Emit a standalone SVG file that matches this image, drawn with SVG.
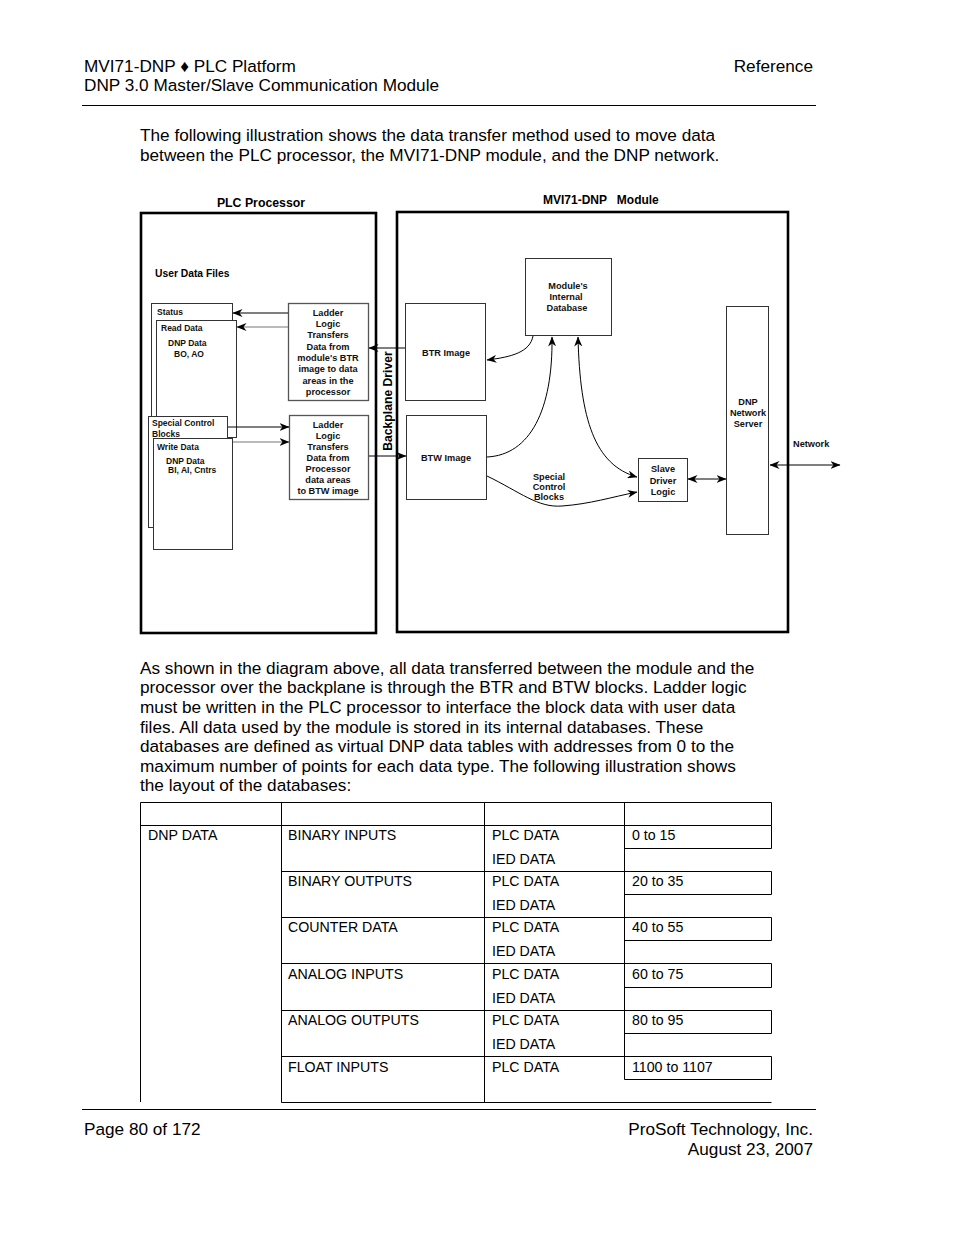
<svg xmlns="http://www.w3.org/2000/svg" width="954" height="1235" viewBox="0 0 954 1235">
<defs>
<marker id="ah" viewBox="0 0 10 8" refX="9.5" refY="4" markerWidth="10" markerHeight="8" markerUnits="userSpaceOnUse" orient="auto-start-reverse">
<path d="M0,0 L10,4 L0,8 L3,4 z" fill="#000"/>
</marker>
<style>
.pg{font-family:"Liberation Sans",Arial,sans-serif;font-size:17.2px;fill:#000}
.tb{font-family:"Liberation Sans",Arial,sans-serif;font-size:14.2px;fill:#000}
.d{font-family:"Liberation Sans",Arial,sans-serif;font-size:9.2px;font-weight:bold;fill:#111}
.ds{font-family:"Liberation Sans",Arial,sans-serif;font-size:8.5px;font-weight:bold;fill:#111}
.dc{font-family:"Liberation Sans",Arial,sans-serif;font-size:9.2px;font-weight:bold;fill:#111;text-anchor:middle}
.t{font-family:"Liberation Sans",Arial,sans-serif;font-weight:bold;fill:#000}
.big{fill:none;stroke:#000;stroke-width:2.6}
.bx{fill:#fff;stroke:#333;stroke-width:1}
.lb{fill:#fff;stroke:#555;stroke-width:1.3}
.cn{fill:none;stroke:#000;stroke-width:1}
.cg{fill:none;stroke:#777;stroke-width:1.2}
.rule{stroke:#000;stroke-width:1}
.tl{stroke:#000;stroke-width:1;fill:none}
</style>
</defs>
<rect width="954" height="1235" fill="#fff"/>

<!-- header -->
<text class="pg" x="84" y="72">MVI71-DNP ♦ PLC Platform</text>
<text class="pg" x="84" y="91">DNP 3.0 Master/Slave Communication Module</text>
<text class="pg" x="813" y="72" text-anchor="end">Reference</text>
<line class="rule" x1="82" y1="105.5" x2="816" y2="105.5"/>

<text class="pg" x="140" y="141">The following illustration shows the data transfer method used to move data</text>
<text class="pg" x="140" y="161">between the PLC processor, the MVI71-DNP module, and the DNP network.</text>

<!-- diagram titles -->
<text class="t" x="261" y="207" font-size="12.3" text-anchor="middle">PLC Processor</text>
<text class="t" x="543" y="204" font-size="12" xml:space="preserve" style="white-space:pre">MVI71-DNP   Module</text>

<g id="plc-processor">
<rect class="big" x="141" y="213" width="235" height="420"/>
<text class="t" x="155" y="277" font-size="10.3">User Data Files</text>
</g>
<g id="module">
<rect class="big" x="397" y="212" width="391" height="420"/>
</g>

<g id="status">
<rect class="bx" x="151.5" y="303.5" width="81" height="113"/>
<text class="ds" x="157" y="315">Status</text>
</g>
<g id="read-data">
<rect class="bx" x="156.5" y="320.5" width="80" height="117"/>
<text class="ds" x="161" y="331">Read Data</text>
<text class="ds" x="168" y="346">DNP Data</text>
<text class="ds" x="174" y="357">BO, AO</text>
</g>
<g id="special-control">
<rect class="bx" x="148.5" y="416.5" width="79" height="111"/>
<text class="ds" x="152" y="426">Special Control</text>
<text class="ds" x="152" y="437">Blocks</text>
</g>
<g id="write-data">
<rect class="bx" x="153.5" y="438.5" width="79" height="111"/>
<text class="ds" x="157" y="450">Write Data</text>
<text class="ds" x="166" y="464">DNP Data</text>
<text class="ds" x="168" y="473">BI, AI, Cntrs</text>
</g>

<g id="ladder-btr">
<rect class="lb" x="288.5" y="303.5" width="80" height="97"/>
<text class="dc" x="328" y="316">Ladder</text>
<text class="dc" x="328" y="327">Logic</text>
<text class="dc" x="328" y="338">Transfers</text>
<text class="dc" x="328" y="350">Data from</text>
<text class="dc" x="328" y="361">module's BTR</text>
<text class="dc" x="328" y="372">image to data</text>
<text class="dc" x="328" y="384">areas in the</text>
<text class="dc" x="328" y="395">processor</text>
</g>
<g id="ladder-btw">
<rect class="lb" x="289.5" y="415.5" width="79" height="84"/>
<text class="dc" x="328" y="428">Ladder</text>
<text class="dc" x="328" y="439">Logic</text>
<text class="dc" x="328" y="450">Transfers</text>
<text class="dc" x="328" y="461">Data from</text>
<text class="dc" x="328" y="472">Processor</text>
<text class="dc" x="328" y="483">data areas</text>
<text class="dc" x="328" y="494">to BTW image</text>
</g>

<g id="backplane-driver">
<text class="t" font-size="12.2" text-anchor="middle" transform="translate(392,401) rotate(-90)">Backplane Driver</text>
</g>

<g id="btr-image">
<rect class="bx" x="405.5" y="303.5" width="80" height="97"/>
<text class="dc" x="446" y="356">BTR Image</text>
</g>
<g id="btw-image">
<rect class="bx" x="406.5" y="415.5" width="80" height="84"/>
<text class="dc" x="446" y="461">BTW Image</text>
</g>
<g id="internal-database">
<rect class="bx" x="525.5" y="258.5" width="86" height="77"/>
<text class="dc" x="568" y="289">Module's</text>
<text class="dc" x="566" y="300">Internal</text>
<text class="dc" x="567" y="311">Database</text>
</g>
<g id="dnp-network-server">
<rect class="bx" x="726.5" y="306.5" width="42" height="228"/>
<text class="dc" x="748" y="405">DNP</text>
<text class="dc" x="748" y="416">Network</text>
<text class="dc" x="748" y="427">Server</text>
</g>
<g id="slave-driver">
<rect class="bx" x="638.5" y="458.5" width="49" height="43"/>
<text class="dc" x="663" y="472">Slave</text>
<text class="dc" x="663" y="484">Driver</text>
<text class="dc" x="663" y="495">Logic</text>
</g>

<g id="connectors">
<line class="cn" x1="288" y1="313" x2="233" y2="313" marker-end="url(#ah)"/>
<line class="cg" x1="288" y1="327" x2="237" y2="327" marker-end="url(#ah)"/>
<line class="cn" x1="228" y1="427" x2="289" y2="427" marker-end="url(#ah)"/>
<line class="cg" x1="233" y1="442" x2="289" y2="442" marker-end="url(#ah)"/>
<line class="cn" x1="405" y1="348" x2="369" y2="348" marker-end="url(#ah)"/>
<line class="cn" x1="369" y1="456" x2="406" y2="456" marker-end="url(#ah)"/>
<path class="cn" d="M533,336 C530,352 512,357 487,360" marker-end="url(#ah)"/>
<path class="cn" d="M487,457 C530,455 553,410 552,337" marker-end="url(#ah)"/>
<path class="cn" d="M578,337 C580,420 595,465 637,477" marker-start="url(#ah)" marker-end="url(#ah)"/>
<path class="cn" d="M487,476 C520,492 538,508 562,506 C590,504 612,497 637,492" marker-end="url(#ah)"/>
<line class="cn" x1="688" y1="479" x2="726" y2="479" marker-start="url(#ah)" marker-end="url(#ah)"/>
<line class="cn" x1="770" y1="465" x2="840" y2="465" marker-start="url(#ah)" marker-end="url(#ah)"/>
<text class="dc" x="549" y="480">Special</text>
<text class="dc" x="549" y="490">Control</text>
<text class="dc" x="549" y="500">Blocks</text>
<text class="d" x="793" y="447">Network</text>
</g>

<!-- paragraph 2 -->
<text class="pg" x="140" y="674">As shown in the diagram above, all data transferred between the module and the</text>
<text class="pg" x="140" y="693">processor over the backplane is through the BTR and BTW blocks. Ladder logic</text>
<text class="pg" x="140" y="713">must be written in the PLC processor to interface the block data with user data</text>
<text class="pg" x="140" y="733">files. All data used by the module is stored in its internal databases. These</text>
<text class="pg" x="140" y="752">databases are defined as virtual DNP data tables with addresses from 0 to the</text>
<text class="pg" x="140" y="772">maximum number of points for each data type. The following illustration shows</text>
<text class="pg" x="140" y="791">the layout of the databases:</text>

<!-- table -->
<g id="table">
<path class="tl" d="M140.5,802.5 H771.5 V825.5 H140.5 M140.5,802.5 V1102 M281.5,802.5 V1102.5 M484.5,802.5 V1102.5 M624.5,802.5 V1079.5"/>
<path class="tl" d="M281.5,871.5 H771.5 M281.5,917.5 H771.5 M281.5,963.5 H771.5 M281.5,1010.5 H771.5 M281.5,1056.5 H771.5 M281.5,1102.5 H771.5"/>
<path class="tl" d="M624.5,848.5 H771.5 V825.5 M624.5,894.5 H771.5 V871.5 M624.5,940.5 H771.5 V917.5 M624.5,987.5 H771.5 V963.5 M624.5,1033.5 H771.5 V1010.5 M624.5,1079.5 H771.5 V1056.5"/>
<text class="tb" x="148" y="840">DNP DATA</text>
<text class="tb" x="288" y="840">BINARY INPUTS</text>
<text class="tb" x="288" y="886">BINARY OUTPUTS</text>
<text class="tb" x="288" y="932">COUNTER DATA</text>
<text class="tb" x="288" y="979">ANALOG INPUTS</text>
<text class="tb" x="288" y="1025">ANALOG OUTPUTS</text>
<text class="tb" x="288" y="1072">FLOAT INPUTS</text>
<text class="tb" x="492" y="840">PLC DATA</text>
<text class="tb" x="492" y="864">IED DATA</text>
<text class="tb" x="492" y="886">PLC DATA</text>
<text class="tb" x="492" y="910">IED DATA</text>
<text class="tb" x="492" y="932">PLC DATA</text>
<text class="tb" x="492" y="956">IED DATA</text>
<text class="tb" x="492" y="979">PLC DATA</text>
<text class="tb" x="492" y="1003">IED DATA</text>
<text class="tb" x="492" y="1025">PLC DATA</text>
<text class="tb" x="492" y="1049">IED DATA</text>
<text class="tb" x="492" y="1072">PLC DATA</text>
<text class="tb" x="632" y="840">0 to 15</text>
<text class="tb" x="632" y="886">20 to 35</text>
<text class="tb" x="632" y="932">40 to 55</text>
<text class="tb" x="632" y="979">60 to 75</text>
<text class="tb" x="632" y="1025">80 to 95</text>
<text class="tb" x="632" y="1072">1100 to 1107</text>
</g>

<!-- footer -->
<line class="rule" x1="82" y1="1109.5" x2="816" y2="1109.5"/>
<text class="pg" x="84" y="1135">Page 80 of 172</text>
<text class="pg" x="813" y="1135" text-anchor="end">ProSoft Technology, Inc.</text>
<text class="pg" x="813" y="1155" text-anchor="end">August 23, 2007</text>
</svg>
